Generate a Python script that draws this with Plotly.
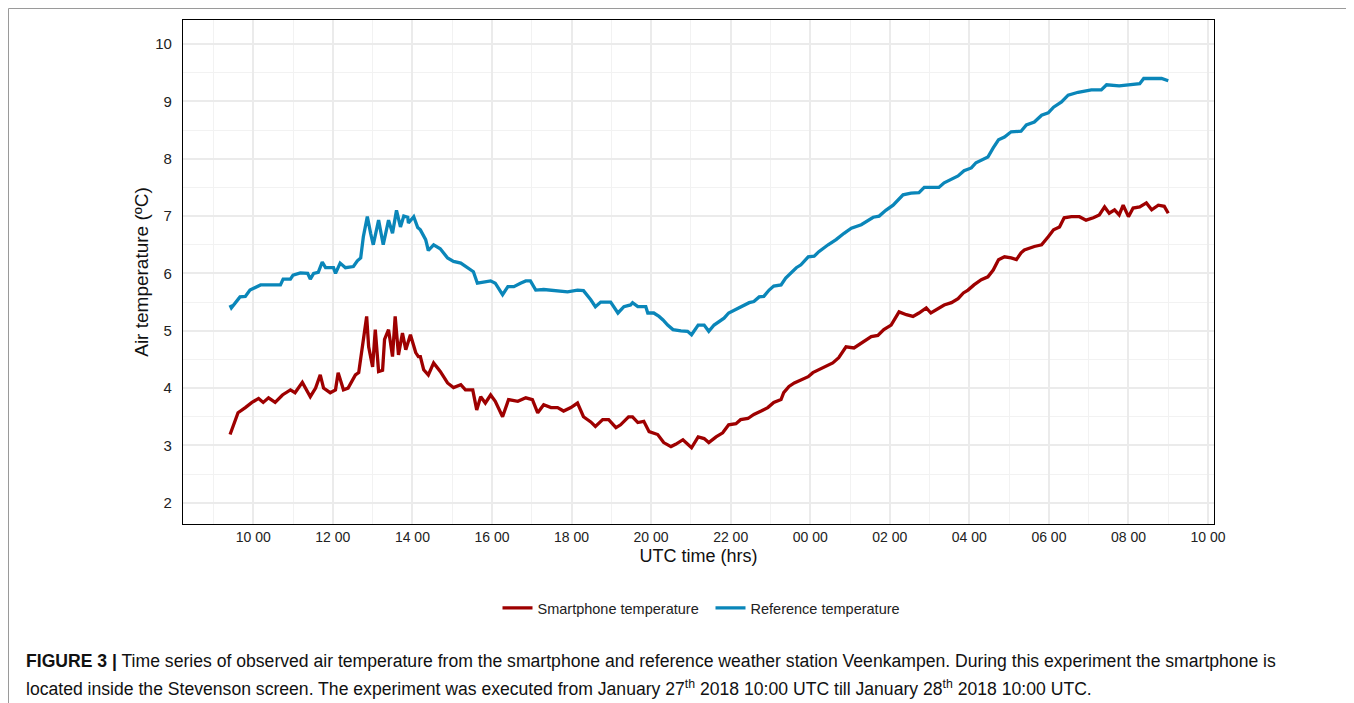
import plotly.graph_objects as go

# ---- data ----
phone_times = [
    "2018-01-27 09:25", "2018-01-27 09:30", "2018-01-27 09:37", "2018-01-27 09:48", "2018-01-27 09:58",
    "2018-01-27 10:08", "2018-01-27 10:15", "2018-01-27 10:23", "2018-01-27 10:33", "2018-01-27 10:44",
    "2018-01-27 10:56", "2018-01-27 11:03", "2018-01-27 11:14", "2018-01-27 11:26", "2018-01-27 11:34",
    "2018-01-27 11:41", "2018-01-27 11:46", "2018-01-27 11:56", "2018-01-27 12:04", "2018-01-27 12:08",
    "2018-01-27 12:16", "2018-01-27 12:23", "2018-01-27 12:34", "2018-01-27 12:39", "2018-01-27 12:45",
    "2018-01-27 12:51", "2018-01-27 12:54", "2018-01-27 13:00", "2018-01-27 13:04", "2018-01-27 13:09",
    "2018-01-27 13:15", "2018-01-27 13:18", "2018-01-27 13:24", "2018-01-27 13:30", "2018-01-27 13:34",
    "2018-01-27 13:39", "2018-01-27 13:45", "2018-01-27 13:50", "2018-01-27 13:57", "2018-01-27 14:05",
    "2018-01-27 14:09", "2018-01-27 14:12", "2018-01-27 14:17", "2018-01-27 14:24", "2018-01-27 14:32",
    "2018-01-27 14:42", "2018-01-27 14:53", "2018-01-27 15:02", "2018-01-27 15:13", "2018-01-27 15:20",
    "2018-01-27 15:31", "2018-01-27 15:37", "2018-01-27 15:43", "2018-01-27 15:50", "2018-01-27 15:58",
    "2018-01-27 16:05", "2018-01-27 16:16", "2018-01-27 16:25", "2018-01-27 16:39", "2018-01-27 16:51",
    "2018-01-27 17:01", "2018-01-27 17:09", "2018-01-27 17:18", "2018-01-27 17:29", "2018-01-27 17:39",
    "2018-01-27 17:48", "2018-01-27 17:59", "2018-01-27 18:09", "2018-01-27 18:18", "2018-01-27 18:29",
    "2018-01-27 18:36", "2018-01-27 18:47", "2018-01-27 18:56", "2018-01-27 19:07", "2018-01-27 19:14",
    "2018-01-27 19:26", "2018-01-27 19:32", "2018-01-27 19:40", "2018-01-27 19:49", "2018-01-27 19:57",
    "2018-01-27 20:10", "2018-01-27 20:19", "2018-01-27 20:30", "2018-01-27 20:37", "2018-01-27 20:48",
    "2018-01-27 20:55", "2018-01-27 21:01", "2018-01-27 21:11", "2018-01-27 21:20", "2018-01-27 21:27",
    "2018-01-27 21:38", "2018-01-27 21:48", "2018-01-27 21:57", "2018-01-27 22:08", "2018-01-27 22:15",
    "2018-01-27 22:26", "2018-01-27 22:35", "2018-01-27 22:46", "2018-01-27 22:56", "2018-01-27 23:05",
    "2018-01-27 23:16", "2018-01-27 23:20", "2018-01-27 23:28", "2018-01-27 23:36", "2018-01-27 23:49",
    "2018-01-27 23:57", "2018-01-28 00:04", "2018-01-28 00:13", "2018-01-28 00:24", "2018-01-28 00:34",
    "2018-01-28 00:43", "2018-01-28 00:54", "2018-01-28 01:06", "2018-01-28 01:20", "2018-01-28 01:32",
    "2018-01-28 01:42", "2018-01-28 01:51", "2018-01-28 02:02", "2018-01-28 02:07", "2018-01-28 02:14",
    "2018-01-28 02:25", "2018-01-28 02:35", "2018-01-28 02:44", "2018-01-28 02:55", "2018-01-28 03:02",
    "2018-01-28 03:13", "2018-01-28 03:22", "2018-01-28 03:33", "2018-01-28 03:43", "2018-01-28 03:51",
    "2018-01-28 03:58", "2018-01-28 04:07", "2018-01-28 04:18", "2018-01-28 04:28", "2018-01-28 04:36",
    "2018-01-28 04:44", "2018-01-28 04:53", "2018-01-28 05:03", "2018-01-28 05:11", "2018-01-28 05:18",
    "2018-01-28 05:23", "2018-01-28 05:38", "2018-01-28 05:49", "2018-01-28 05:59", "2018-01-28 06:07",
    "2018-01-28 06:16", "2018-01-28 06:23", "2018-01-28 06:34", "2018-01-28 06:46", "2018-01-28 06:56",
    "2018-01-28 07:07", "2018-01-28 07:16", "2018-01-28 07:24", "2018-01-28 07:31", "2018-01-28 07:39",
    "2018-01-28 07:46", "2018-01-28 07:52", "2018-01-28 08:00", "2018-01-28 08:07", "2018-01-28 08:17",
    "2018-01-28 08:27", "2018-01-28 08:35", "2018-01-28 08:45", "2018-01-28 08:54", "2018-01-28 09:00",
]
phone_values = [
    3.19, 3.36, 3.57, 3.66, 3.75, 3.82, 3.75, 3.83, 3.75, 3.88,
    3.97, 3.92, 4.10, 3.85, 4.00, 4.23, 4.00, 3.92, 3.97, 4.27,
    3.97, 4.00, 4.23, 4.27, 4.79, 5.25, 4.72, 4.37, 5.02, 4.29,
    4.31, 4.85, 5.02, 4.55, 5.25, 4.58, 4.96, 4.67, 4.93, 4.62,
    4.55, 4.55, 4.32, 4.23, 4.44, 4.29, 4.09, 4.01, 4.06, 3.97,
    3.97, 3.62, 3.85, 3.74, 3.88, 3.77, 3.50, 3.80, 3.77, 3.83,
    3.80, 3.57, 3.71, 3.66, 3.66, 3.60, 3.66, 3.74, 3.50, 3.41,
    3.33, 3.45, 3.45, 3.31, 3.36, 3.50, 3.50, 3.40, 3.42, 3.24,
    3.19, 3.05, 2.98, 3.02, 3.10, 3.02, 2.96, 3.15, 3.12, 3.05,
    3.15, 3.22, 3.36, 3.38, 3.45, 3.47, 3.54, 3.60, 3.66, 3.75,
    3.80, 3.92, 4.03, 4.09, 4.15, 4.20, 4.27, 4.32, 4.37, 4.44,
    4.53, 4.72, 4.70, 4.81, 4.90, 4.92, 5.02, 5.10, 5.19, 5.33,
    5.28, 5.25, 5.31, 5.40, 5.31, 5.38, 5.45, 5.49, 5.56, 5.66,
    5.71, 5.80, 5.89, 5.94, 6.06, 6.24, 6.29, 6.27, 6.24, 6.36,
    6.41, 6.47, 6.50, 6.64, 6.76, 6.81, 6.97, 6.99, 6.99, 6.93,
    6.97, 7.02, 7.16, 7.05, 7.11, 7.02, 7.19, 6.99, 7.14, 7.16,
    7.23, 7.11, 7.19, 7.17, 7.05,
]

ref_times = [
    "2018-01-27 09:25", "2018-01-27 09:27", "2018-01-27 09:40", "2018-01-27 09:48", "2018-01-27 09:55",
    "2018-01-27 10:03", "2018-01-27 10:11", "2018-01-27 10:41", "2018-01-27 10:45", "2018-01-27 10:56",
    "2018-01-27 11:00", "2018-01-27 11:11", "2018-01-27 11:22", "2018-01-27 11:26", "2018-01-27 11:31",
    "2018-01-27 11:38", "2018-01-27 11:44", "2018-01-27 11:49", "2018-01-27 12:01", "2018-01-27 12:04",
    "2018-01-27 12:11", "2018-01-27 12:19", "2018-01-27 12:31", "2018-01-27 12:37", "2018-01-27 12:42",
    "2018-01-27 12:46", "2018-01-27 12:52", "2018-01-27 12:57", "2018-01-27 13:01", "2018-01-27 13:09",
    "2018-01-27 13:16", "2018-01-27 13:24", "2018-01-27 13:30", "2018-01-27 13:36", "2018-01-27 13:42",
    "2018-01-27 13:47", "2018-01-27 13:53", "2018-01-27 13:54", "2018-01-27 14:02", "2018-01-27 14:08",
    "2018-01-27 14:12", "2018-01-27 14:20", "2018-01-27 14:24", "2018-01-27 14:32", "2018-01-27 14:42",
    "2018-01-27 14:53", "2018-01-27 15:02", "2018-01-27 15:13", "2018-01-27 15:23", "2018-01-27 15:32",
    "2018-01-27 15:38", "2018-01-27 15:47", "2018-01-27 15:58", "2018-01-27 16:05", "2018-01-27 16:16",
    "2018-01-27 16:24", "2018-01-27 16:33", "2018-01-27 16:43", "2018-01-27 16:51", "2018-01-27 16:58",
    "2018-01-27 17:06", "2018-01-27 17:18", "2018-01-27 17:29", "2018-01-27 17:44", "2018-01-27 17:54",
    "2018-01-27 18:09", "2018-01-27 18:18", "2018-01-27 18:29", "2018-01-27 18:36", "2018-01-27 18:44",
    "2018-01-27 18:59", "2018-01-27 19:10", "2018-01-27 19:19", "2018-01-27 19:29", "2018-01-27 19:32",
    "2018-01-27 19:40", "2018-01-27 19:52", "2018-01-27 19:55", "2018-01-27 20:04", "2018-01-27 20:12",
    "2018-01-27 20:18", "2018-01-27 20:25", "2018-01-27 20:33", "2018-01-27 20:45", "2018-01-27 20:55",
    "2018-01-27 21:01", "2018-01-27 21:11", "2018-01-27 21:20", "2018-01-27 21:27", "2018-01-27 21:35",
    "2018-01-27 21:42", "2018-01-27 21:50", "2018-01-27 21:57", "2018-01-27 22:08", "2018-01-27 22:18",
    "2018-01-27 22:28", "2018-01-27 22:35", "2018-01-27 22:43", "2018-01-27 22:50", "2018-01-27 22:58",
    "2018-01-27 23:05", "2018-01-27 23:16", "2018-01-27 23:23", "2018-01-27 23:31", "2018-01-27 23:39",
    "2018-01-27 23:46", "2018-01-27 23:57", "2018-01-28 00:06", "2018-01-28 00:13", "2018-01-28 00:27",
    "2018-01-28 00:39", "2018-01-28 00:51", "2018-01-28 01:02", "2018-01-28 01:17", "2018-01-28 01:24",
    "2018-01-28 01:35", "2018-01-28 01:44", "2018-01-28 01:54", "2018-01-28 02:05", "2018-01-28 02:12",
    "2018-01-28 02:20", "2018-01-28 02:32", "2018-01-28 02:44", "2018-01-28 02:52", "2018-01-28 03:14",
    "2018-01-28 03:22", "2018-01-28 03:33", "2018-01-28 03:43", "2018-01-28 03:52", "2018-01-28 04:03",
    "2018-01-28 04:10", "2018-01-28 04:18", "2018-01-28 04:28", "2018-01-28 04:36", "2018-01-28 04:44",
    "2018-01-28 04:53", "2018-01-28 05:03", "2018-01-28 05:18", "2018-01-28 05:26", "2018-01-28 05:38",
    "2018-01-28 05:49", "2018-01-28 05:59", "2018-01-28 06:07", "2018-01-28 06:19", "2018-01-28 06:29",
    "2018-01-28 06:44", "2018-01-28 07:04", "2018-01-28 07:19", "2018-01-28 07:27", "2018-01-28 07:46",
    "2018-01-28 08:04", "2018-01-28 08:17", "2018-01-28 08:23", "2018-01-28 08:35", "2018-01-28 08:50",
    "2018-01-28 09:00",
]
ref_values = [
    5.45, 5.40, 5.59, 5.60, 5.71, 5.75, 5.80, 5.80, 5.90, 5.90,
    5.97, 6.01, 6.00, 5.90, 6.00, 6.02, 6.20, 6.10, 6.10, 6.00,
    6.18, 6.10, 6.12, 6.22, 6.27, 6.64, 6.99, 6.70, 6.50, 6.93,
    6.50, 6.93, 6.70, 7.10, 6.81, 7.00, 6.98, 6.88, 6.99, 6.80,
    6.76, 6.59, 6.40, 6.50, 6.43, 6.27, 6.21, 6.18, 6.10, 6.03,
    5.83, 5.85, 5.87, 5.83, 5.63, 5.77, 5.77, 5.83, 5.87, 5.87,
    5.71, 5.72, 5.71, 5.70, 5.68, 5.71, 5.70, 5.54, 5.42, 5.50,
    5.50, 5.31, 5.42, 5.45, 5.49, 5.42, 5.42, 5.31, 5.31, 5.25,
    5.19, 5.10, 5.02, 5.00, 4.99, 4.93, 5.10, 5.10, 4.99, 5.10,
    5.16, 5.22, 5.31, 5.37, 5.42, 5.49, 5.51, 5.59, 5.60, 5.71,
    5.78, 5.80, 5.92, 6.01, 6.10, 6.15, 6.29, 6.30, 6.38, 6.50,
    6.59, 6.70, 6.79, 6.85, 6.90, 6.98, 7.00, 7.10, 7.19, 7.28,
    7.37, 7.40, 7.41, 7.50, 7.50, 7.58, 7.65, 7.70, 7.79, 7.84,
    7.93, 7.98, 8.03, 8.19, 8.33, 8.38, 8.47, 8.48, 8.59, 8.64,
    8.76, 8.80, 8.90, 8.99, 9.11, 9.16, 9.20, 9.20, 9.29, 9.27,
    9.30, 9.31, 9.40, 9.40, 9.40, 9.36,
]

series_names = ["Smartphone temperature", "Reference temperature"]
series_colors = ["#9E0000", "#0A86B9"]

x_range = ["2018-01-27 08:14", "2018-01-28 10:09"]
y_range = [1.63, 10.42]

caption_line1 = ("<b>FIGURE 3 |</b> Time series of observed air temperature from the smartphone and "
                 "reference weather station Veenkampen. During this experiment the smartphone is")
caption_line2 = ("located inside the Stevenson screen. The experiment was executed from January 27<sup>th</sup> "
                 "2018 10:00 UTC till January 28<sup>th</sup> 2018 10:00 UTC.")

# ---- figure ----
# page is drawn with an 8px body margin, so the figure is 8px smaller than the window
OFF = 8
PAGE_W, PAGE_H = 1354, 703
W, H = PAGE_W - OFF, PAGE_H - OFF
# plot panel edges in page pixels
L, R, T, B = 183, 1214, 20, 524

fig = go.Figure()
fig.add_trace(go.Scatter(x=phone_times, y=phone_values, mode="lines", name=series_names[0],
                         line=dict(color=series_colors[0], width=3.3)))
fig.add_trace(go.Scatter(x=ref_times, y=ref_values, mode="lines", name=series_names[1],
                         line=dict(color=series_colors[1], width=3.3)))

font_main = "Liberation Sans, Arial, sans-serif"

def px_x(p):
    return (p - L) / (R - L)

def px_y(p):
    return (B - p) / (B - T)

fig.update_layout(
    width=W, height=H,
    margin=dict(l=L - OFF, r=PAGE_W - R, t=T - OFF, b=PAGE_H - B, pad=0),
    paper_bgcolor="white", plot_bgcolor="white",
    font=dict(family=font_main, color="#222222"),
    showlegend=True,
    legend=dict(orientation="h", x=px_x(710.5), xanchor="center", y=px_y(608), yanchor="middle",
                font=dict(size=14.5, color="#222222"), itemwidth=30, traceorder="normal",
                entrywidth=168, entrywidthmode="pixels"),
    xaxis=dict(
        type="date", range=x_range, tickformat="%H %M", dtick=7200000, tick0="2018-01-27 00:00",
        showgrid=True, gridcolor="#EBEBEB", gridwidth=1.6,
        minor=dict(dtick=3600000, showgrid=True, gridcolor="#F2F2F2", gridwidth=1),
        showline=True, linecolor="black", linewidth=1.2, mirror=True,
        ticks="", tickfont=dict(size=14, color="#222222"),
        title=dict(text="UTC time (hrs)", font=dict(size=18, color="#111111"), standoff=5),
        zeroline=False,
    ),
    yaxis=dict(
        range=y_range, dtick=1, tick0=0,
        showgrid=True, gridcolor="#EBEBEB", gridwidth=1.6,
        minor=dict(dtick=0.5, showgrid=True, gridcolor="#F2F2F2", gridwidth=1),
        showline=True, linecolor="black", linewidth=1.2, mirror=True,
        ticks="", ticklabelstandoff=7, tickfont=dict(size=15, color="#222222"),
        title=dict(text="Air temperature (ºC)", font=dict(size=19, color="#111111"), standoff=1),
        zeroline=False,
    ),
)

# outer gray frame
fig.add_shape(type="rect", xref="paper", yref="paper",
              x0=px_x(8.5), x1=px_x(1350.5), y0=px_y(710), y1=px_y(8.5),
              line=dict(color="#9A9A9A", width=1), fillcolor="rgba(0,0,0,0)", layer="below")

fig.add_annotation(text=caption_line1, xref="paper", yref="paper", x=px_x(24), y=px_y(661),
                   xanchor="left", yanchor="middle", showarrow=False, align="left",
                   font=dict(size=17.6, family=font_main, color="#111111"))
fig.add_annotation(text=caption_line2, xref="paper", yref="paper", x=px_x(24), y=px_y(688),
                   xanchor="left", yanchor="middle", showarrow=False, align="left",
                   font=dict(size=17.6, family=font_main, color="#111111"))

fig.write_html("out.html")
